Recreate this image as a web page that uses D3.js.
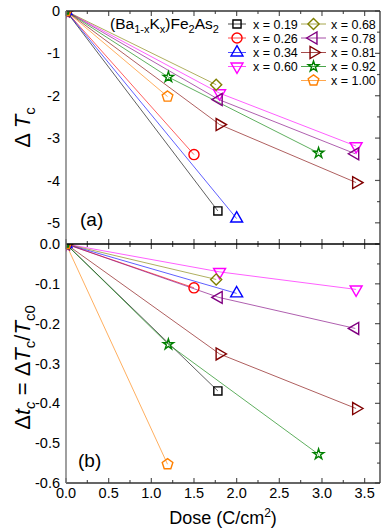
<!DOCTYPE html>
<html><head><meta charset="utf-8">
<script src="https://cdn.jsdelivr.net/npm/d3@7"></script>
<style>
body{margin:0;background:#fff;}
svg text{font-family:"Liberation Sans",Arial,sans-serif;fill:#000;}
</style></head><body>
<svg id="c" width="382" height="531"></svg>
<script>
// ---- data ----
const labels = ["x = 0.19","x = 0.26","x = 0.34","x = 0.60","x = 0.68","x = 0.78","x = 0.81","x = 0.92","x = 1.00"];
const doses = [[0,1.78],[0,1.5],[0,2.0],[0,1.8,3.4],[0,1.76],[0,1.79,3.39],[0,1.8,3.4],[0,1.2,2.96],[0,1.19]];
const dTc   = [[0,-4.72],[0,-3.39],[0,-4.90],[0,-1.94,-3.19],[0,-1.74],[0,-2.09,-3.37],[0,-2.68,-4.05],[0,-1.56,-3.35],[0,-2.02]];
const dtc   = [[0,-0.369],[0,-0.110],[0,-0.124],[0,-0.070,-0.114],[0,-0.089],[0,-0.134,-0.212],[0,-0.276,-0.413],[0,-0.252,-0.528],[0,-0.553]];
const xTicks = [0,0.5,1,1.5,2,2.5,3,3.5];
const yTicksA = [0,-1,-2,-3,-4,-5];
const yTicksB = [0,-0.1,-0.2,-0.3,-0.4,-0.5,-0.6];
// ---- style ----
const colors = ["#000000","#ff0000","#0000ff","#ff00ff","#808000","#800080","#800000","#008000","#ff8000"];
const shapes = ["square","circle","up","down","diamond","left","right","star","pentagon"];

const svg = d3.select("#c");
const L = 66, R = 380, TA = 11, MID = 244, BB = 483;
const x = d3.scaleLinear().domain([0,3.68]).range([L,R]);
const yA = d3.scaleLinear().domain([-5.5,0]).range([MID,TA]);
const yB = d3.scaleLinear().domain([-0.6,0]).range([BB,MID]);

function markerPath(shape){
  switch(shape){
    case "square": return {d: d3.symbol().type(d3.symbolSquare).size(66)(), rot: 0};
    case "circle": return {d: d3.symbol().type(d3.symbolCircle).size(80)(), rot: 0};
    case "up": return {d: d3.symbol().type(d3.symbolTriangle).size(62)(), rot: 0};
    case "down": return {d: d3.symbol().type(d3.symbolTriangle).size(62)(), rot: 180};
    case "left": return {d: d3.symbol().type(d3.symbolTriangle).size(62)(), rot: -90};
    case "right": return {d: d3.symbol().type(d3.symbolTriangle).size(62)(), rot: 90};
    case "diamond": return {d: d3.symbol().type(d3.symbolSquare).size(62)(), rot: 45};
    case "star": return {d: d3.symbol().type(d3.symbolStar).size(34)(), rot: 0};
    case "pentagon": {
      const r = 5.6;
      const pts = d3.range(5).map(k => { const a = -Math.PI/2 + k*2*Math.PI/5; return [r*Math.cos(a), r*Math.sin(a)]; });
      return {d: d3.line()(pts) + "Z", rot: 0};
    }
  }
}
function drawMarker(g, shape, color, cx, cy){
  const m = markerPath(shape);
  g.append("path").attr("d", m.d)
    .attr("transform", `translate(${cx},${cy}) rotate(${m.rot})`)
    .attr("fill","none").attr("stroke", color).attr("stroke-width", 1.4);
}

const defs = svg.append("defs");
defs.append("clipPath").attr("id","clipA").append("rect").attr("x",L).attr("y",TA).attr("width",R-L).attr("height",MID-TA);
defs.append("clipPath").attr("id","clipB").append("rect").attr("x",L).attr("y",MID).attr("width",R-L).attr("height",BB-MID);

function panel(yScale, vals, clipId){
  const g = svg.append("g").attr("clip-path", `url(#${clipId})`);
  vals.forEach((arr, i) => {
    const pts = arr.map((v,j) => [x(doses[i][j]), yScale(v)]);
    g.append("path").attr("d", d3.line()(pts)).attr("fill","none")
      .attr("stroke", colors[i]).attr("stroke-opacity", 0.7).attr("stroke-width", 0.9);
  });
  vals.forEach((arr, i) => {
    arr.forEach((v,j) => drawMarker(g, shapes[i], colors[i], x(doses[i][j]), yScale(v)));
  });
}
panel(yA, dTc, "clipA");
panel(yB, dtc, "clipB");

// ---- axes / frame ----
const fr = svg.append("g");
const frameCol = "#333";
function hTicks(yPos, dirs){
  const g = fr.append("g");
  const minors = d3.range(0.25, 3.7, 0.5);
  dirs.forEach(dir => {
    xTicks.forEach(t => g.append("line").attr("x1",x(t)).attr("x2",x(t)).attr("y1",yPos).attr("y2",yPos+dir*5).attr("stroke","#555").attr("stroke-width",1.2));
    minors.forEach(t => g.append("line").attr("x1",x(t)).attr("x2",x(t)).attr("y1",yPos).attr("y2",yPos+dir*3).attr("stroke","#555").attr("stroke-width",1.2));
  });
}
hTicks(TA, [1]);
hTicks(MID, [1,-1]);
hTicks(BB, [-1]);
function vTicksRight(yScale, majors, step){
  const g = fr.append("g");
  const [d0,d1] = yScale.domain();
  majors.forEach(t => g.append("line").attr("x1",R).attr("x2",R-5).attr("y1",yScale(t)).attr("y2",yScale(t)).attr("stroke","#555").attr("stroke-width",1.2));
  d3.range(d1 - step/2, d0, -step).forEach(t => g.append("line").attr("x1",R).attr("x2",R-3).attr("y1",yScale(t)).attr("y2",yScale(t)).attr("stroke","#555").attr("stroke-width",1.2));
}
vTicksRight(yA, yTicksA, 1);
vTicksRight(yB, yTicksB, 0.1);

fr.append("line").attr("x1",L).attr("x2",R).attr("y1",TA).attr("y2",TA).attr("stroke",frameCol).attr("stroke-width",1.3);
fr.append("line").attr("x1",L).attr("x2",R).attr("y1",MID).attr("y2",MID).attr("stroke","#000").attr("stroke-width",1.3);
fr.append("line").attr("x1",L).attr("x2",R).attr("y1",BB).attr("y2",BB).attr("stroke",frameCol).attr("stroke-width",1.3);
fr.append("line").attr("x1",R).attr("x2",R).attr("y1",TA).attr("y2",BB).attr("stroke",frameCol).attr("stroke-width",1.3);
fr.append("line").attr("x1",L).attr("x2",L).attr("y1",TA).attr("y2",BB).attr("stroke","#777").attr("stroke-width",1.4);

// tick labels
const tl = svg.append("g").attr("font-size", 14.5);
yTicksA.forEach(t => tl.append("text").attr("x", 60).attr("y", yA(t)).attr("dy","0.35em").attr("text-anchor","end").text(d3.format("d")(t).replace("−","-")));
yTicksB.forEach(t => tl.append("text").attr("x", 60).attr("y", yB(t)).attr("dy","0.35em").attr("text-anchor","end").text(d3.format(".1f")(t).replace("−","-")));
xTicks.forEach(t => tl.append("text").attr("x", x(t)).attr("y", 498).attr("text-anchor","middle").text(d3.format(".1f")(t)));

// panel labels
svg.append("text").attr("x",80).attr("y",226).attr("font-size",19).text("(a)");
svg.append("text").attr("x",78).attr("y",467).attr("font-size",19).text("(b)");

// x title
const xt = svg.append("text").attr("x",223).attr("y",524).attr("text-anchor","middle").attr("font-size",18);
xt.append("tspan").text("Dose (C/cm");
xt.append("tspan").attr("dy",-7).attr("font-size",12).text("2");
xt.append("tspan").attr("dy",7).text(")");

// y title a
const ya = svg.append("text").attr("transform",`translate(30,${(TA+MID)/2}) rotate(-90)`).attr("text-anchor","middle").attr("font-size",22);
ya.append("tspan").text("Δ ");
ya.append("tspan").attr("font-style","italic").text("T");
ya.append("tspan").attr("dy",5).attr("font-size",15).text("c");

// y title b
const yb = svg.append("text").attr("transform",`translate(30,${(MID+BB)/2 + 4}) rotate(-90)`).attr("text-anchor","middle").attr("font-size",22);
yb.append("tspan").text("Δ");
yb.append("tspan").attr("font-style","italic").text("t");
yb.append("tspan").attr("dy",5).attr("font-size",15).attr("font-style","italic").text("c");
yb.append("tspan").attr("dy",-5).text(" = Δ");
yb.append("tspan").attr("font-style","italic").text("T");
yb.append("tspan").attr("dy",5).attr("font-size",15).text("c");
yb.append("tspan").attr("dy",-5).text("/");
yb.append("tspan").attr("font-style","italic").text("T");
yb.append("tspan").attr("dy",5).attr("font-size",15).text("c0");

// legend
const lg = svg.append("g");
const title = lg.append("text").attr("x",110).attr("y",29).attr("font-size",15.5);
title.append("tspan").text("(Ba");
title.append("tspan").attr("dy",4).attr("font-size",11).text("1-x");
title.append("tspan").attr("dy",-4).text("K");
title.append("tspan").attr("dy",4).attr("font-size",11).text("x");
title.append("tspan").attr("dy",-4).text(")Fe");
title.append("tspan").attr("dy",4).attr("font-size",11).text("2");
title.append("tspan").attr("dy",-4).text("As");
title.append("tspan").attr("dy",4).attr("font-size",11).text("2");
const rowsY = [24, 38, 52.5, 66.5, 80.5];
labels.forEach((lab, i) => {
  const col = i < 4 ? 0 : 1;
  const row = i < 4 ? i : i - 4;
  const x0 = col === 0 ? 228 : 301, x1 = col === 0 ? 246 : 326;
  const cx = (x0 + x1) / 2, cy = rowsY[row];
  lg.append("line").attr("x1",x0).attr("x2",x1).attr("y1",cy).attr("y2",cy).attr("stroke",colors[i]).attr("stroke-opacity",0.7).attr("stroke-width",1);
  drawMarker(lg, shapes[i], colors[i], cx, cy);
  lg.append("text").attr("x", col === 0 ? 253 : 331).attr("y", cy).attr("dy","0.36em").attr("font-size",12.5).text(lab);
});
</script>
</body></html>
